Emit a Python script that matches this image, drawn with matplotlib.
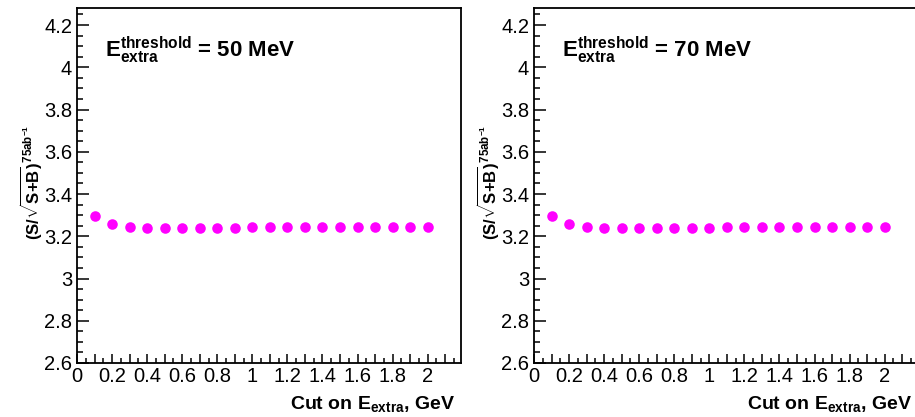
import matplotlib
matplotlib.use("Agg")
import matplotlib.pyplot as plt
from matplotlib.ticker import MultipleLocator, FuncFormatter

plt.rcParams['font.family'] = ['Liberation Sans', 'DejaVu Sans']
plt.rcParams['mathtext.fontset'] = 'custom'
plt.rcParams['mathtext.rm'] = 'Liberation Sans'
plt.rcParams['mathtext.bf'] = 'Liberation Sans:bold'
plt.rcParams['mathtext.it'] = 'Liberation Sans:italic'
plt.rcParams['mathtext.default'] = 'regular'

# Data
cut_values = [0.1, 0.2, 0.3, 0.4, 0.5, 0.6, 0.7, 0.8, 0.9, 1.0,
              1.1, 1.2, 1.3, 1.4, 1.5, 1.6, 1.7, 1.8, 1.9, 2.0]
signif_50 = [3.297, 3.258, 3.245, 3.239, 3.238, 3.238, 3.238, 3.240, 3.240, 3.242,
             3.244, 3.244, 3.244, 3.244, 3.244, 3.244, 3.244, 3.244, 3.244, 3.244]
signif_70 = [3.297, 3.258, 3.245, 3.239, 3.239, 3.239, 3.239, 3.239, 3.241, 3.241,
             3.244, 3.244, 3.244, 3.244, 3.244, 3.244, 3.244, 3.244, 3.244, 3.245]
thresholds = ["50", "70"]
series = [signif_50, signif_70]

W, H = 915, 417
fig = plt.figure(figsize=(W / 100, H / 100), dpi=100)

ax_left_px = [77, 534]
ax_w_px = 384
ax_top_px = 7.5
ax_bot_px = 363

for i, (thr, vals) in enumerate(zip(thresholds, series)):
    x0 = ax_left_px[i]
    ax = fig.add_axes([x0 / W, (H - ax_bot_px) / H, ax_w_px / W, (ax_bot_px - ax_top_px) / H])
    ax.plot(cut_values, vals, 'o', color='#ff00ff', markersize=7.6, markeredgewidth=0)
    ax.set_xlim(0, 2.19)
    ax.set_ylim(2.6, 4.283)
    for s in ax.spines.values():
        s.set_linewidth(1.3)
    ax.xaxis.set_major_locator(MultipleLocator(0.1))
    ax.xaxis.set_minor_locator(MultipleLocator(0.05))
    ax.xaxis.set_major_formatter(FuncFormatter(
        lambda v, p: ('%g' % round(v, 1)) if abs(round(v * 10)) % 2 == 0 else ''))
    ax.yaxis.set_major_locator(MultipleLocator(0.2))
    ax.yaxis.set_minor_locator(MultipleLocator(0.05))
    ax.yaxis.set_major_formatter(FuncFormatter(lambda v, p: '%g' % round(v, 1)))
    ax.tick_params(axis='both', which='both', direction='in', top=False, right=False,
                   labelsize=14.5, width=1.1)
    ax.tick_params(axis='x', which='major', length=6.5, pad=3.0)
    ax.tick_params(axis='x', which='minor', length=3.5)
    ax.tick_params(axis='y', which='major', length=8.5, pad=3.5)
    ax.tick_params(axis='y', which='minor', length=4.3)

    ax.text(0.073, (ax_bot_px - 57) / (ax_bot_px - ax_top_px),
            r'E$_{extra}^{threshold}$ = %s MeV' % thr,
            transform=ax.transAxes, fontsize=16, fontweight='bold',
            ha='left', va='baseline')
    ax.text(0.984, (ax_bot_px - 409) / (ax_bot_px - ax_top_px), r'Cut on E$_{extra}$, GeV',
            transform=ax.transAxes, fontsize=14, fontweight='bold',
            ha='right', va='baseline')
    fig.text((x0 - 46) / W, (H - 182.5) / H, r'(S/$\sqrt{S{+}B}$)$^{75ab^{-1}}$',
             rotation=90, fontsize=12, fontweight='bold', ha='center', va='center')

fig.savefig('out.png', dpi=100)
